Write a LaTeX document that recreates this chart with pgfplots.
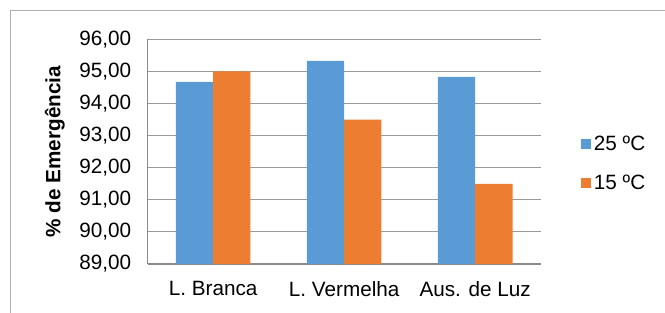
\documentclass[border=0pt]{standalone}
\usepackage{pgfplots}
\pgfplotsset{compat=1.18}
\usepackage{fontspec}
\setmainfont{Liberation Sans}
\definecolor{cblue}{HTML}{5B9BD5}
\definecolor{corange}{HTML}{ED7D31}
\definecolor{gridc}{HTML}{9A9A9A}
\definecolor{axc}{HTML}{8A8A8A}
\definecolor{framec}{HTML}{B0B0B0}
\begin{document}
\begin{tikzpicture}[x=1pt,y=1pt]
\useasboundingbox (0,0) rectangle (665,-313);
\draw[framec, line width=1pt] (10.3,-10.3) rectangle (720,-360);
\begin{axis}[
  at={(147.7pt,-264pt)}, anchor=south west,
  scale only axis, width=393pt, height=224.7pt,
  ybar=0pt, bar width=37.3pt,
  xmin=-0.5, xmax=2.5, ymin=89, ymax=96,
  xtick={0,1,2}, xticklabels={L. Branca, L. Vermelha, Aus. de Luz},
  ytick={89,90,...,96},
  major tick length=0pt,
  ymajorgrids, grid style={gridc, line width=1.1pt},
  axis x line*=bottom, axis y line*=left,
  axis line style={axc, line width=1.3pt, -},
  separate axis lines,
  x axis line style={axc},
  /pgf/number format/assume math mode=true,
  /pgf/number format/.cd, fixed, fixed zerofill, precision=2, use comma, 1000 sep={},
  /pgfplots/.cd,
  tick label style={font=\fontsize{20.7}{24}\selectfont, text=black},
  yticklabel style={xshift=-13pt},
  xticklabel style={yshift=-14pt},
  ylabel={\bfseries \% de Emergência},
  ylabel style={font=\fontsize{20.7}{24}\selectfont, at={(axis description cs:-0.236,0.5)}, anchor=center, rotate=0},
  legend style={at={(1.1025,0.447)}, anchor=west, draw=none, fill=none,
    font=\fontsize{20.7}{24}\selectfont, row sep=18pt, inner sep=0pt,
    nodes={inner sep=2.5pt}},
  legend cell align=left,
]
\addplot[fill=cblue, draw=none, legend image code/.code={\fill[cblue] (0pt,-5pt) rectangle (10.3pt,5pt);}]
  coordinates {(0,94.67) (1,95.33) (2,94.83)};
\addlegendentry{25 ºC}
\addplot[fill=corange, draw=none, legend image code/.code={\fill[corange] (0pt,-5pt) rectangle (10.3pt,5pt);}]
  coordinates {(0,95.00) (1,93.50) (2,91.50)};
\addlegendentry{15 ºC}
\end{axis}
\end{tikzpicture}
\end{document}
